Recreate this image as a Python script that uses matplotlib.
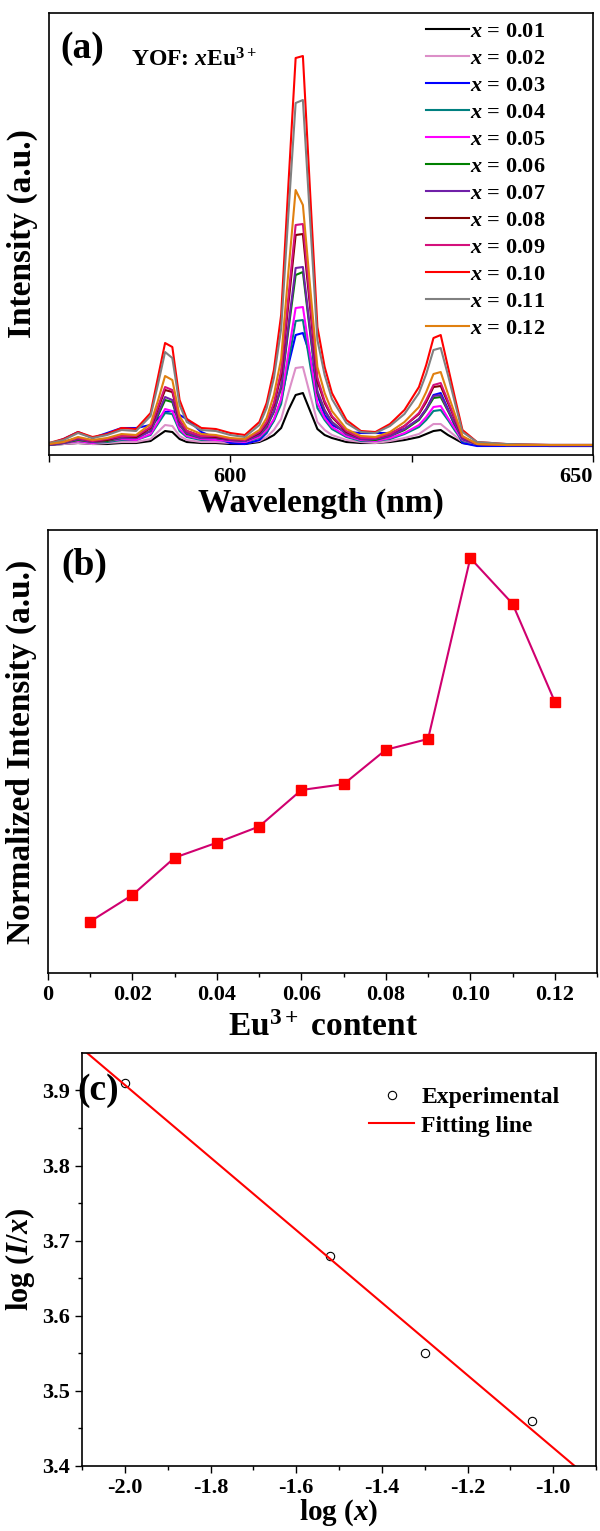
import matplotlib
matplotlib.use('Agg')
import matplotlib.pyplot as plt
import numpy as np

plt.rcParams['font.family'] = 'Liberation Serif'
plt.rcParams['font.weight'] = 'bold'
plt.rcParams['axes.labelweight'] = 'bold'
plt.rcParams['mathtext.fontset'] = 'custom'
plt.rcParams['mathtext.rm'] = 'Liberation Serif:bold'
plt.rcParams['mathtext.it'] = 'Liberation Serif:italic:bold'
plt.rcParams['mathtext.bf'] = 'Liberation Serif:bold'
plt.rcParams['axes.linewidth'] = 1.2

"""
Data read off the figure
"""

# (a) emission spectra, intensity in arbitrary units
wavelength = [575, 577, 579, 581, 583, 585, 587, 589, 590, 591, 592, 593, 594, 596, 598, 600,
              602, 604, 605, 606, 607, 608, 609, 610, 611, 612, 613, 614, 616, 618, 620, 622,
              624, 626, 627, 628, 629, 630, 631, 632, 634, 638, 644, 650]

spec_001 = [10, 11, 12, 11, 11, 12, 12, 14, 19, 24, 23, 16, 13, 12, 12, 11,
            11, 13, 16, 20, 27, 45, 60, 62, 44, 26, 20, 17, 13, 12, 12, 13,
            15, 18, 21, 24, 25, 20, 16, 12, 10, 10, 9, 9]
spec_002 = [10, 11, 12, 11, 12, 13, 13, 16, 23, 30, 29, 19, 15, 13, 13, 12,
            12, 14, 18, 25, 36, 62, 87, 88, 60, 33, 25, 20, 15, 13, 12, 14,
            17, 21, 26, 31, 31, 25, 19, 13, 10, 10, 10, 10]
spec_003 = [11, 16, 23, 17, 22, 27, 27, 30, 36, 43, 44, 40, 36, 23, 17, 12,
            11, 15, 22, 35, 55, 90, 120, 122, 100, 60, 40, 30, 23, 22, 22, 22,
            26, 36, 46, 60, 62, 46, 28, 12, 9, 9, 9, 9]
spec_004 = [10, 12, 14, 12, 13, 15, 15, 20, 31, 42, 41, 24, 18, 15, 15, 14,
            13, 17, 23, 34, 51, 93, 134, 135, 90, 47, 35, 26, 18, 14, 14, 16,
            21, 28, 35, 44, 45, 35, 24, 14, 11, 10, 10, 10]
spec_005 = [10, 12, 14, 12, 14, 16, 15, 21, 33, 46, 44, 26, 19, 16, 15, 14,
            13, 18, 25, 36, 56, 102, 147, 148, 99, 52, 37, 28, 19, 15, 14, 17,
            22, 30, 38, 48, 49, 37, 26, 15, 11, 10, 10, 10]
spec_006 = [10, 12, 15, 13, 14, 17, 17, 24, 39, 55, 53, 30, 21, 17, 17, 15,
            14, 20, 28, 43, 67, 125, 180, 183, 122, 62, 44, 33, 21, 16, 15, 19,
            25, 35, 45, 57, 58, 44, 30, 16, 11, 10, 10, 10]
spec_007 = [10, 12, 16, 13, 15, 17, 17, 24, 41, 58, 55, 30, 22, 17, 17, 15,
            14, 20, 29, 44, 69, 129, 187, 188, 125, 64, 45, 33, 21, 16, 16, 19,
            26, 36, 46, 59, 60, 45, 31, 16, 11, 10, 10, 10]
spec_008 = [11, 13, 17, 14, 15, 19, 18, 27, 46, 65, 63, 34, 24, 19, 18, 16,
            15, 22, 32, 50, 80, 151, 220, 221, 147, 74, 52, 38, 23, 17, 17, 21,
            29, 41, 53, 68, 69, 52, 35, 18, 11, 10, 10, 10]
spec_009 = [11, 13, 17, 14, 16, 19, 19, 28, 48, 68, 65, 35, 24, 19, 19, 16,
            15, 23, 33, 52, 84, 158, 230, 231, 153, 77, 54, 39, 24, 17, 17, 21,
            29, 42, 55, 70, 72, 54, 36, 18, 11, 10, 10, 10]
spec_010 = [12, 16, 23, 18, 21, 27, 26, 42, 77, 112, 108, 55, 36, 27, 26, 22,
            20, 33, 52, 85, 140, 270, 397, 399, 262, 128, 88, 62, 35, 24, 23, 31,
            45, 68, 90, 117, 120, 88, 56, 25, 13, 11, 10, 10]
spec_011 = [12, 15, 22, 17, 20, 25, 24, 39, 70, 103, 97, 50, 33, 25, 24, 20,
            18, 30, 47, 77, 126, 241, 352, 355, 234, 115, 80, 56, 32, 23, 22, 29,
            41, 62, 81, 105, 107, 80, 51, 23, 13, 11, 10, 10]
spec_012 = [11, 13, 18, 15, 17, 21, 20, 31, 54, 79, 75, 39, 27, 21, 20, 17,
            16, 25, 37, 60, 96, 183, 265, 250, 168, 88, 62, 44, 26, 19, 18, 23,
            33, 48, 63, 81, 83, 61, 40, 19, 11, 10, 10, 10]

spectra = [spec_001, spec_002, spec_003, spec_004, spec_005, spec_006,
           spec_007, spec_008, spec_009, spec_010, spec_011, spec_012]
conc_labels = ['0.01', '0.02', '0.03', '0.04', '0.05', '0.06',
               '0.07', '0.08', '0.09', '0.10', '0.11', '0.12']
colors = ['#000000', '#dc8fc8', '#0000ff', '#008080', '#ff00ff', '#008000',
          '#7020a8', '#800000', '#d4107c', '#ff0000', '#808080', '#e08010']

# (b) normalized intensity vs Eu3+ content
eu_content = [0.01, 0.02, 0.03, 0.04, 0.05, 0.06, 0.07, 0.08, 0.09, 0.10, 0.11, 0.12]
norm_intensity = [0.124, 0.188, 0.278, 0.314, 0.353, 0.441, 0.455, 0.538, 0.564, 1.0, 0.890, 0.654]

# (c) log(I/x) vs log(x)
log_x = [-2.0, -1.52, -1.30, -1.05]
log_Ix = [3.91, 3.68, 3.55, 3.46]

"""
Figure
"""

fig = plt.figure(figsize=(6.0, 15.31), dpi=100)
ax_a = fig.add_axes([0.0817, 0.7028, 0.9067, 0.2887])
ax_b = fig.add_axes([0.080, 0.3645, 0.915, 0.2894])
ax_c = fig.add_axes([0.1367, 0.0425, 0.8567, 0.2698])

tick_kw = dict(direction='out', labelsize=16, width=1.0)

# ---- (a) spectra
for spec, lab, col in zip(spectra, conc_labels, colors):
    ax_a.plot(wavelength, spec, color=col, lw=1.5, label=r'$x$ = ' + lab)
ax_a.set_xlim(575, 650)
ax_a.set_ylim(0, 442)
ax_a.set_xticks([575, 600, 625, 650])
ax_a.set_xticklabels(['', '600', '', '650'])
ax_a.get_xticklabels()[-1].set_horizontalalignment('right')
ax_a.set_yticks([])
ax_a.tick_params(axis='x', length=5, **tick_kw)
ax_a.set_xlabel('Wavelength (nm)', fontsize=24, labelpad=1)
ax_a.set_ylabel('Intensity (a.u.)', fontsize=24, labelpad=8)
ax_a.text(0.02, 0.96, '(a)', transform=ax_a.transAxes, fontsize=27, va='top', ha='left')
ax_a.text(0.15, 0.893, r'YOF: $x$Eu$^{3+}$', transform=ax_a.transAxes, fontsize=17, va='center')
leg = ax_a.legend(loc='upper right', bbox_to_anchor=(0.941, 1.016), frameon=False, fontsize=16,
                  handlelength=1.9, handletextpad=0.05, labelspacing=0.29, borderaxespad=0.3)

# ---- (b) normalized intensity
ax_b.plot(eu_content, norm_intensity, color='#d0006f', lw=1.5, marker='s',
          markersize=6.5, markerfacecolor='#ff0000', markeredgecolor='#ff0000')
ax_b.set_xlim(0, 0.13)
ax_b.set_ylim(0, 1.068)
ax_b.set_xticks([0, 0.02, 0.04, 0.06, 0.08, 0.10, 0.12])
ax_b.set_xticklabels(['0', '0.02', '0.04', '0.06', '0.08', '0.10', '0.12'])
ax_b.set_xticks(np.arange(0.01, 0.135, 0.02), minor=True)
ax_b.set_yticks([])
ax_b.tick_params(axis='x', which='major', length=5, **tick_kw)
ax_b.tick_params(axis='x', which='minor', length=3, direction='out', width=1.0)
ax_b.set_xlabel(r'Eu$^{3+}$ content', fontsize=24, labelpad=5)
ax_b.set_ylabel('Normalized Intensity (a.u.)', fontsize=24, labelpad=8)
ax_b.text(0.025, 0.96, '(b)', transform=ax_b.transAxes, fontsize=27, va='top', ha='left')

# ---- (c) log plot with linear fit
slope, intercept = np.polyfit(log_x, log_Ix, 1)
fit_x = np.array([-2.2, -0.8])
ax_c.plot(log_x, log_Ix, linestyle='none', marker='o', markersize=6,
          markerfacecolor='none', markeredgecolor='black', markeredgewidth=0.8,
          label='Experimental')
ax_c.plot(fit_x, intercept + slope * fit_x, color='#ff0000', lw=1.5, label='Fitting line')
ax_c.set_xlim(-2.1, -0.9)
ax_c.set_ylim(3.4, 3.95)
ax_c.set_xticks([-2.0, -1.8, -1.6, -1.4, -1.2, -1.0])
ax_c.set_xticklabels(['-2.0', '-1.8', '-1.6', '-1.4', '-1.2', '-1.0'])
ax_c.set_xticks(np.arange(-2.1, -0.85, 0.1), minor=True)
ax_c.set_yticks([3.4, 3.5, 3.6, 3.7, 3.8, 3.9])
ax_c.set_yticks(np.arange(3.45, 3.95, 0.1), minor=True)
ax_c.tick_params(axis='both', which='major', length=5, **tick_kw)
ax_c.tick_params(axis='both', which='minor', length=3, direction='out', width=1.0)
ax_c.set_xlabel(r'log ($x$)', fontsize=21, labelpad=0)
ax_c.set_ylabel(r'log ($I$/$x$)', fontsize=22, labelpad=4)
ax_c.text(-0.01, 0.91, '(c)', transform=ax_c.transAxes, fontsize=27, va='center', ha='left')
ax_c.legend(loc='upper right', bbox_to_anchor=(0.97, 0.97), frameon=False, fontsize=17,
            handlelength=1.9, handletextpad=0.3, labelspacing=0.3)

fig.savefig('out.png', dpi=100)
